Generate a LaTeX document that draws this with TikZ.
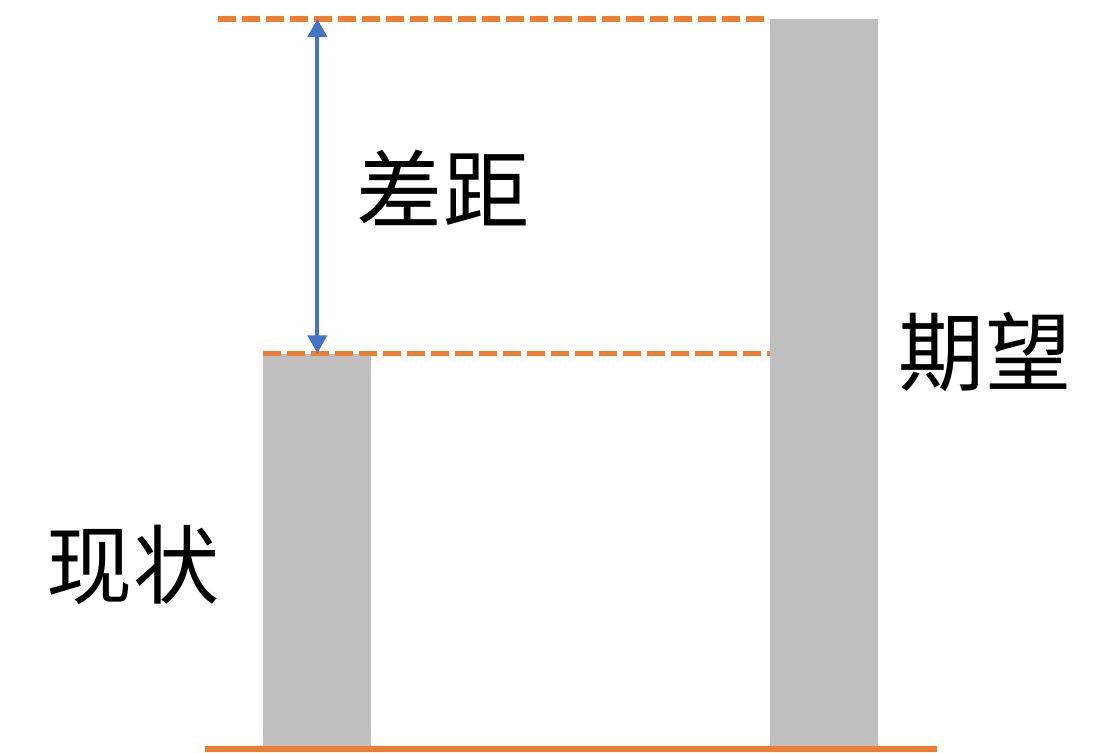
\documentclass[tikz,border=0pt]{standalone}
\usepackage{fontspec}
\newfontfamily\cjk{Noto Sans CJK SC}
\usepackage{tikz}
\usetikzlibrary{arrows.meta,positioning,calc}
\definecolor{barfill}{HTML}{BFBFBF}
\definecolor{lineorange}{HTML}{ED7D31}
\definecolor{arrowblue}{HTML}{4472C4}

\begin{document}
\begin{tikzpicture}[every node/.style={font=\cjk\fontsize{49}{54}\selectfont,align=center}, >=Latex]
  \useasboundingbox (0,0) rectangle (22.38,-15.04);
  \tikzset{
    bar/.style={fill=barfill, draw=none, inner sep=0pt, minimum width=2.16cm, anchor=south west},
    level/.style={lineorange, line width=3pt, dash pattern=on 0.36cm off 0.12cm},
    gap/.style={<->, arrowblue, line width=2.4pt, >={Triangle[length=0.36cm,width=0.38cm]}}
  }
  \node[bar, minimum height=7.84cm] (now) at (5.26,-14.92) {};
  \node[bar, minimum height=14.54cm] (goal) at (15.40,-14.92) {};

  \coordinate (topstart) at (4.36,-0.38);
  \coordinate (topend) at (15.28,-0.38);
  \coordinate (basestart) at (4.10,-14.98);
  \coordinate (baseend) at (18.74,-14.98);

  \draw[level] (topstart) -- (topend);
  \draw[level] (now.north west) -- (now.north west -| goal.west);
  \draw[gap] (now.north |- topstart) -- (now.north);
  \draw[lineorange, line width=3.4pt] (basestart) -- (baseend);

  \node (gaplabel) at (8.86,-3.76) {差距};
  \node (goallabel) at (19.70,-7.04) {期望};
  \node (nowlabel) at (2.66,-11.30) {现状};
\end{tikzpicture}
\end{document}
